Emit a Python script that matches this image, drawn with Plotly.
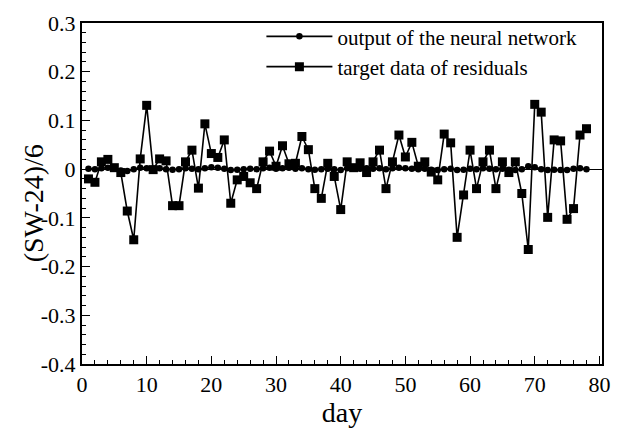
import plotly.graph_objects as go

days = list(range(1, 79))

target = [-0.020, -0.027, 0.015, 0.020, 0.003, -0.007, -0.086, -0.145, 0.021, 0.131,
          -0.001, 0.021, 0.017, -0.075, -0.075, 0.015, 0.039, -0.039, 0.093, 0.032,
          0.024, 0.060, -0.070, -0.022, -0.015, -0.028, -0.040, 0.015, 0.037, 0.006,
          0.048, 0.011, 0.012, 0.067, 0.040, -0.040, -0.060, 0.012, -0.015, -0.083,
          0.015, 0.003, 0.013, -0.007, 0.015, 0.039, -0.040, 0.015, 0.070, 0.025,
          0.055, 0.006, 0.015, -0.006, -0.022, 0.072, 0.054, -0.140, -0.053, 0.039,
          -0.040, 0.015, 0.039, -0.040, 0.015, -0.007, 0.015, -0.050, -0.165, 0.133,
          0.117, -0.099, 0.060, 0.058, -0.103, -0.081, 0.070, 0.083]

network = [0.001, 0.000, 0.002, 0.003, 0.001, -0.003, -0.004, 0.000, 0.003, 0.002,
           0.001, 0.002, 0.000, -0.001, 0.000, 0.002, 0.001, 0.000, 0.002, 0.004,
           0.003, 0.001, -0.002, -0.001, 0.000, 0.001, 0.000, 0.002, 0.003, 0.001,
           0.002, 0.003, 0.001, 0.002, 0.000, -0.001, 0.000, 0.001, 0.000, -0.002,
           0.002, 0.003, 0.001, 0.002, 0.001, 0.002, 0.000, 0.002, 0.003, 0.002,
           0.001, 0.000, 0.001, -0.001, -0.002, 0.000, 0.001, -0.002, -0.001, 0.001,
           0.000, 0.002, 0.001, 0.000, 0.001, -0.001, -0.002, 0.000, 0.006, 0.004,
           0.000, -0.002, -0.001, -0.002, -0.002, 0.001, 0.002, 0.000]

x_ticks = [0, 10, 20, 30, 40, 50, 60, 70, 80]
y_ticks = [0.3, 0.2, 0.1, 0, -0.1, -0.2, -0.3, -0.4]
y_tick_text = ["0.3", "0.2", "0.1", "0", "-0.1", "-0.2", "-0.3", "-0.4"]

FONT = "Liberation Serif, Times New Roman, serif"

fig = go.Figure()
fig.add_trace(go.Scatter(
    x=days, y=network, mode="lines+markers",
    name="output of the neural network",
    line=dict(color="black", width=1.6),
    marker=dict(symbol="circle", size=6.5, color="black"),
))
fig.add_trace(go.Scatter(
    x=days, y=target, mode="lines+markers",
    name="target data of residuals",
    line=dict(color="black", width=1.6),
    marker=dict(symbol="square", size=9, color="black"),
))

fig.update_layout(
    width=621, height=430,
    margin=dict(l=82, r=11, t=19, b=65),
    paper_bgcolor="white", plot_bgcolor="white",
    font=dict(family=FONT, color="black", size=22),
    showlegend=True,
    legend=dict(
        x=0.345, y=1.02, xanchor="left", yanchor="top",
        bgcolor="rgba(0,0,0,0)", borderwidth=0,
        font=dict(family=FONT, size=21, color="black"),
        itemwidth=66, tracegroupgap=0,
    ),
    annotations=[dict(
        text="(SW-24)/6", textangle=-90,
        xref="paper", yref="paper", x=-0.093, y=0.47,
        xanchor="center", yanchor="middle", showarrow=False,
        font=dict(family=FONT, size=28, color="black"),
    )],
)

fig.update_xaxes(
    range=[0, 80.4],
    tickmode="array", tickvals=x_ticks,
    ticks="inside", ticklen=8, tickwidth=1, tickcolor="black",
    minor=dict(ticks="inside", ticklen=4, dtick=2, tick0=0, tickcolor="black"),
    showline=True, linecolor="black", linewidth=2, mirror=True,
    showgrid=False, zeroline=False,
    tickfont=dict(family=FONT, size=22),
    title=dict(text="day", font=dict(family=FONT, size=28), standoff=2),
)

fig.update_yaxes(
    range=[-0.4, 0.3],
    tickmode="array", tickvals=y_ticks, ticktext=y_tick_text,
    ticks="inside", ticklen=8, tickwidth=1, tickcolor="black",
    minor=dict(ticks="inside", ticklen=4, dtick=0.02, tick0=0, tickcolor="black"),
    showline=True, linecolor="black", linewidth=2, mirror=True,
    showgrid=False,
    zeroline=True, zerolinecolor="black", zerolinewidth=1,
    tickfont=dict(family=FONT, size=22),
)

fig.write_html("out.html")
